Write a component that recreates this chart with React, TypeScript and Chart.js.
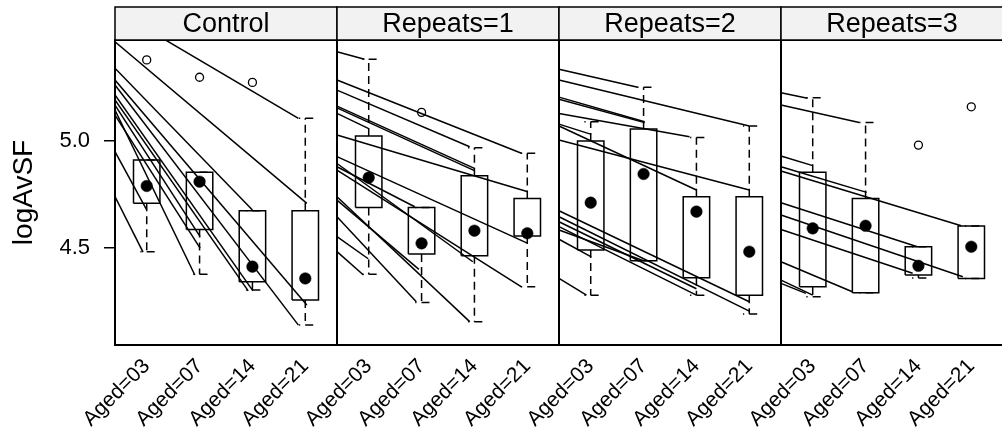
import React, { useEffect, useRef } from "react";
import { Chart, registerables } from "chart.js";

Chart.register(...registerables);

// Panels (conditioning levels) and the age levels inside each panel
const panels = ["Control", "Repeats=1", "Repeats=2", "Repeats=3"];
const ageLevels = ["Aged=03", "Aged=07", "Aged=14", "Aged=21"];
const yTickValues = [4.5, 5.0];
const yLabel = "logAvSF";

// Box statistics per age level: [lower whisker, lower hinge, median, upper hinge, upper whisker]
const controlStats = [
  [4.483, 4.709, 4.79, 4.911, 4.911],
  [4.377, 4.587, 4.81, 4.854, 4.854],
  [4.304, 4.343, 4.413, 4.674, 4.674],
  [4.14, 4.257, 4.358, 4.674, 5.106],
];
const repeats1Stats = [
  [4.377, 4.69, 4.829, 5.023, 5.382],
  [4.246, 4.472, 4.522, 4.69, 4.69],
  [4.156, 4.464, 4.581, 4.838, 4.969],
  [4.319, 4.556, 4.569, 4.732, 4.943],
];
const repeats2Stats = [
  [4.28, 4.491, 4.712, 5.0, 5.09],
  [4.441, 4.441, 4.846, 5.056, 5.251],
  [4.28, 4.361, 4.67, 4.74, 5.017],
  [4.192, 4.28, 4.483, 4.74, 5.07],
];
const repeats3Stats = [
  [4.272, 4.319, 4.592, 4.854, 5.202],
  [4.291, 4.291, 4.604, 4.732, 5.087],
  [4.36, 4.374, 4.417, 4.506, 4.506],
  [4.358, 4.358, 4.506, 4.603, 4.603],
];

// Outlying observations: [age level (1-4), value]
const controlOutliers = [
  [1, 5.379],
  [2, 5.298],
  [3, 5.274],
];
const repeats1Outliers = [[2, 5.134]];
const repeats2Outliers: number[][] = [];
const repeats3Outliers = [
  [3, 4.981],
  [4, 5.16],
];

// Fitted trend segments: [value at panel's left edge, end position (age level units), end value]
const controlLines = [
  [5.611, 3.87, 5.106],
  [5.464, 4.03, 4.709],
  [5.34, 3.0, 4.678],
  [5.285, 4.03, 4.234],
  [5.262, 3.87, 4.14],
  [5.215, 3.01, 4.3],
  [5.192, 2.92, 4.3],
  [5.168, 2.01, 4.553],
  [5.145, 1.91, 4.374],
  [5.121, 2.01, 4.5],
  [4.95, 1.0, 4.678],
  [4.74, 0.93, 4.481],
];
const repeats1Lines = [
  [5.417, 0.92, 5.382],
  [5.285, 3.89, 4.943],
  [5.238, 2.91, 4.973],
  [5.163, 3.0, 4.872],
  [5.155, 3.0, 4.862],
  [5.129, 0.99, 5.059],
  [5.028, 4.01, 4.763],
  [4.927, 4.01, 4.522],
  [4.895, 2.97, 4.436],
  [4.88, 1.87, 4.693],
  [4.864, 3.89, 4.319],
  [4.74, 2.91, 4.156],
  [4.724, 1.95, 4.4],
  [4.646, 1.9, 4.249],
  [4.553, 0.99, 4.45],
  [4.483, 0.9, 4.374],
];
const repeats2Lines = [
  [5.335, 1.89, 5.251],
  [5.285, 4.0, 5.07],
  [5.205, 2.02, 5.09],
  [5.195, 2.02, 5.086],
  [5.129, 2.87, 5.02],
  [5.079, 1.01, 5.031],
  [5.07, 3.0, 4.771],
  [5.005, 4.0, 4.771],
  [4.674, 4.0, 4.249],
  [4.646, 4.0, 4.205],
  [4.623, 3.0, 4.31],
  [4.6, 3.0, 4.28],
  [4.584, 2.0, 4.441],
  [4.541, 1.01, 4.459],
  [4.358, 0.92, 4.28],
];
const repeats3Lines = [
  [5.226, 0.9, 5.2],
  [5.168, 1.88, 5.087],
  [4.93, 1.0, 4.885],
  [4.88, 2.02, 4.76],
  [4.86, 3.81, 4.604],
  [4.712, 2.98, 4.506],
  [4.654, 3.84, 4.366],
  [4.587, 2.89, 4.382],
  [4.436, 1.75, 4.296],
  [4.35, 1.0, 4.28],
  [4.335, 0.87, 4.288],
];

const panelStats = [controlStats, repeats1Stats, repeats2Stats, repeats3Stats];
const panelOutliers = [controlOutliers, repeats1Outliers, repeats2Outliers, repeats3Outliers];
const panelLines = [controlLines, repeats1Lines, repeats2Lines, repeats3Lines];

// Each panel spans 0.4 .. 4.6 in age-level units; panels are laid side by side on one x scale
const PANEL_SPAN = 4.2;
const PANEL_LO = 0.4;
const BOX_HALF = 0.25;
const CAP_HALF = 0.12;
const Y_MIN = 4.047;
const Y_MAX = 5.472;
const FONT = "'Liberation Sans', Arial, Helvetica, sans-serif";

function buildDatasets() {
  const sets: any[] = [];
  const solid = { borderColor: "#000", borderWidth: 1.5, pointRadius: 0, fill: false, tension: 0 };
  const dashed = { ...solid, borderDash: [8, 5] };

  panelLines.forEach((lines, p) => {
    const off = p * PANEL_SPAN;
    lines.forEach(([y0, x1, y1]) => {
      sets.push({ ...solid, data: [{ x: off + PANEL_LO, y: y0 }, { x: off + x1, y: y1 }] });
    });
  });

  const medians: any[] = [];
  const outliers: any[] = [];
  panelStats.forEach((stats, p) => {
    const off = p * PANEL_SPAN;
    stats.forEach(([lw, q1, med, q3, uw], i) => {
      const c = off + i + 1;
      sets.push({
        ...solid,
        data: [
          { x: c - BOX_HALF, y: q1 },
          { x: c + BOX_HALF, y: q1 },
          { x: c + BOX_HALF, y: q3 },
          { x: c - BOX_HALF, y: q3 },
          { x: c - BOX_HALF, y: q1 },
        ],
      });
      if (uw > q3) {
        sets.push({ ...dashed, data: [{ x: c, y: q3 }, { x: c, y: uw }] });
      }
      sets.push({ ...dashed, data: [{ x: c + CAP_HALF + 0.03, y: uw }, { x: c - CAP_HALF, y: uw }] });
      if (lw < q1) {
        sets.push({ ...dashed, data: [{ x: c, y: q1 }, { x: c, y: lw }] });
      }
      sets.push({ ...dashed, data: [{ x: c + CAP_HALF + 0.03, y: lw }, { x: c - CAP_HALF, y: lw }] });
      medians.push({ x: c, y: med });
    });
    panelOutliers[p].forEach(([i, v]) => outliers.push({ x: off + i, y: v }));
  });

  sets.push({
    data: medians,
    showLine: false,
    pointRadius: 5.8,
    pointBackgroundColor: "#000",
    pointBorderColor: "#000",
    pointBorderWidth: 0.5,
  });
  sets.push({
    data: outliers,
    showLine: false,
    pointRadius: 4,
    pointBackgroundColor: "rgba(0,0,0,0)",
    pointBorderColor: "#000",
    pointBorderWidth: 1.3,
  });
  return sets;
}

// Panel frames, strips and the y-axis label
const latticeFrame = {
  id: "latticeFrame",
  afterDatasetsDraw(chart: any) {
    const { ctx, chartArea, scales } = chart;
    const xs = scales.x;
    ctx.save();
    ctx.strokeStyle = "#000";
    for (let p = 0; p < panels.length; p++) {
      const l = xs.getPixelForValue(p * PANEL_SPAN + PANEL_LO);
      const r = xs.getPixelForValue((p + 1) * PANEL_SPAN + PANEL_LO);
      ctx.lineWidth = 2;
      ctx.strokeRect(l, chartArea.top, r - l, chartArea.bottom - chartArea.top);
      ctx.fillStyle = "#f2f2f2";
      ctx.fillRect(l, 7, r - l, chartArea.top - 7);
      ctx.lineWidth = 1.5;
      ctx.strokeRect(l, 7, r - l, chartArea.top - 7);
      ctx.fillStyle = "#000";
      ctx.font = `27px ${FONT}`;
      ctx.textAlign = "center";
      ctx.textBaseline = "middle";
      ctx.fillText(panels[p], (l + r) / 2, (7 + chartArea.top) / 2 + 1);
    }
    ctx.translate(24, (chartArea.top + chartArea.bottom) / 2);
    ctx.rotate(-Math.PI / 2);
    ctx.font = `28px ${FONT}`;
    ctx.textAlign = "center";
    ctx.textBaseline = "middle";
    ctx.fillText(yLabel, 0, 0);
    ctx.restore();
  },
};

export default function App() {
  const ref = useRef<HTMLCanvasElement | null>(null);

  useEffect(() => {
    if (!ref.current) return;
    const tickPositions: number[] = [];
    panels.forEach((_, p) => ageLevels.forEach((_, i) => tickPositions.push(p * PANEL_SPAN + i + 1)));

    const chart = new Chart(ref.current, {
      type: "line",
      data: { datasets: buildDatasets() },
      plugins: [latticeFrame],
      options: {
        responsive: false,
        animation: false,
        events: [],
        layout: { padding: { top: 40, right: 7, left: 0, bottom: 0 } },
        plugins: { legend: { display: false }, tooltip: { enabled: false } },
        scales: {
          x: {
            type: "linear",
            min: PANEL_LO,
            max: PANEL_LO + PANEL_SPAN * panels.length,
            afterBuildTicks: (s: any) => {
              s.ticks = tickPositions.map((v) => ({ value: v }));
            },
            afterFit: (s: any) => {
              s.height = 90;
            },
            grid: { display: false, drawTicks: false },
            border: { display: false },
            ticks: {
              autoSkip: false,
              minRotation: 45,
              maxRotation: 45,
              padding: 9,
              color: "#000",
              font: { family: FONT, size: 21 },
              callback: (_v: any, i: number) => ageLevels[i % ageLevels.length],
            },
          },
          y: {
            type: "linear",
            min: Y_MIN,
            max: Y_MAX,
            afterBuildTicks: (s: any) => {
              s.ticks = yTickValues.map((v) => ({ value: v }));
            },
            afterFit: (s: any) => {
              s.width = 115;
            },
            grid: { drawOnChartArea: false, drawTicks: true, tickLength: 11, color: "#000", lineWidth: 1.5 },
            border: { display: false },
            ticks: {
              padding: 14,
              color: "#000",
              font: { family: FONT, size: 22 },
              callback: (v: any) => Number(v).toFixed(1),
            },
          },
        },
      },
    });
    return () => chart.destroy();
  }, []);

  return (
    <div style={{ position: "fixed", left: 0, top: 0, width: 1002, height: 435, overflow: "hidden", background: "#fff" }}>
      <canvas ref={ref} width={1010} height={435} style={{ display: "block" }} />
    </div>
  );
}
